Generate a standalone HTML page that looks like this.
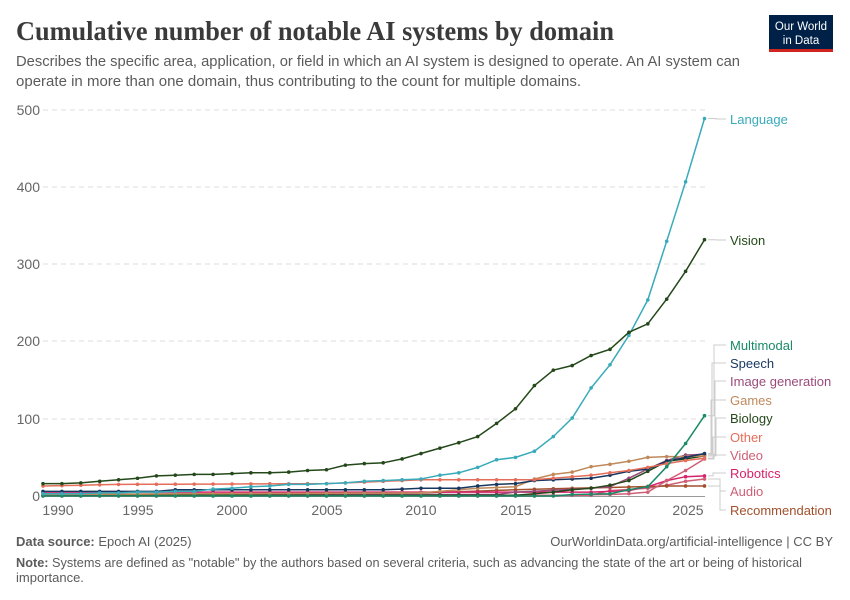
<!DOCTYPE html>
<html><head><meta charset="utf-8"><style>
html,body{margin:0;padding:0;background:#fff}
svg{display:block}
text{font-family:"Liberation Sans",sans-serif}
</style></head><body>
<svg id="s" width="850" height="600" xmlns="http://www.w3.org/2000/svg">
<text x="16" y="40" style="font-family:'Liberation Serif',serif" font-size="27" font-weight="bold" fill="#3a3a3a" textLength="598" lengthAdjust="spacingAndGlyphs">Cumulative number of notable AI systems by domain</text>
<text x="16" y="66" font-size="15" fill="#5b5b5b" textLength="724" lengthAdjust="spacingAndGlyphs">Describes the specific area, application, or field in which an AI system is designed to operate. An AI system can</text>
<text x="16" y="86" font-size="15" fill="#5b5b5b" textLength="565" lengthAdjust="spacingAndGlyphs">operate in more than one domain, thus contributing to the count for multiple domains.</text>
<rect x="769" y="15" width="64" height="34" fill="#002147"/>
<rect x="769" y="49" width="64" height="3" fill="#ce261e"/>
<text x="801" y="30" font-size="11.5" fill="#fff" text-anchor="middle">Our World</text>
<text x="801" y="44" font-size="11.5" fill="#fff" text-anchor="middle">in Data</text>
<g stroke="#ddd" stroke-dasharray="5,4">
<line x1="43" x2="705" y1="110" y2="110"/><line x1="43" x2="705" y1="187" y2="187"/>
<line x1="43" x2="705" y1="264" y2="264"/><line x1="43" x2="705" y1="341" y2="341"/>
<line x1="43" x2="705" y1="419" y2="419"/>
</g>
<line x1="43" x2="705" y1="496.5" y2="496.5" stroke="#999"/>
<g font-size="14" fill="#666" text-anchor="end">
<text x="40" y="115">500</text><text x="40" y="192">400</text><text x="40" y="269">300</text>
<text x="40" y="346">200</text><text x="40" y="424">100</text><text x="40" y="501">0</text>
</g>
<g font-size="14" fill="#666" text-anchor="middle">
<text x="58" y="515">1990</text><text x="138" y="515">1995</text><text x="232" y="515">2000</text>
<text x="327" y="515">2005</text><text x="421" y="515">2010</text><text x="516" y="515">2015</text>
<text x="610" y="515">2020</text><text x="688" y="515">2025</text>
</g>
<g id="lines"></g>
<g id="conn" stroke="#ccc" fill="none"></g>
<g font-size="13">
<text x="730" y="124" fill="#38aaba">Language</text>
<text x="730" y="245" fill="#24481a">Vision</text>
<text x="730" y="350" fill="#1a8a68">Multimodal</text>
<text x="730" y="368" fill="#18375f">Speech</text>
<text x="730" y="386" fill="#9a4a7a">Image generation</text>
<text x="730" y="405" fill="#c0895b">Games</text>
<text x="730" y="423" fill="#24481a">Biology</text>
<text x="730" y="442" fill="#e56e5a">Other</text>
<text x="730" y="460" fill="#cf5f76">Video</text>
<text x="730" y="478" fill="#d6236b">Robotics</text>
<text x="730" y="496" fill="#cf5f76">Audio</text>
<text x="730" y="515" fill="#a2502c">Recommendation</text>
</g>
<text x="16" y="546" font-size="13" fill="#5b5b5b"><tspan font-weight="bold">Data source:</tspan> Epoch AI (2025)</text>
<text x="833" y="546" font-size="13" fill="#5b5b5b" text-anchor="end">OurWorldinData.org/artificial-intelligence | CC BY</text>
<text x="16" y="567" font-size="13" fill="#5b5b5b" textLength="786" lengthAdjust="spacingAndGlyphs"><tspan font-weight="bold">Note:</tspan> Systems are defined as "notable" by the authors based on several criteria, such as advancing the state of the art or being of historical</text>
<text x="16" y="582" font-size="13" fill="#5b5b5b">importance.</text>
</svg>
<script>
const X=y=>43+(y-1990)*18.9, Y=v=>496-v*0.772;
function fill(pairs){const a=[];for(let i=0;i<pairs.length-1;i++){const[y0,v0]=pairs[i],[y1,v1]=pairs[i+1];for(let y=y0;y<y1;y++)a.push(v0+(v1-v0)*(y-y0)/(y1-y0));}a.push(pairs[pairs.length-1][1]);return a;}
const S=[
["#cf5f76",fill([[1990,1],[2019,1],[2020,7],[2022,10],[2023,14],[2024,19],[2025,22]]),491],
["#a2502c",fill([[1990,2],[2010,4],[2015,8],[2018,10],[2020,11],[2023,13],[2025,13]]),510],
["#d6236b",fill([[1990,5],[2019,5],[2020,6],[2021,7],[2022,12],[2023,20],[2024,25],[2025,26]]),473],
["#cf5f76",fill([[1990,0],[2016,0],[2020,2],[2021,3],[2022,5],[2023,20],[2024,33],[2025,48]]),455],
["#9a4a7a",fill([[1990,2],[2014,2],[2015,5],[2019,10],[2020,12],[2021,23],[2022,35],[2023,46],[2024,53],[2025,54]]),381],
["#24481a",fill([[1990,1],[2015,1],[2016,3],[2017,5],[2018,8],[2019,10],[2020,14],[2021,20],[2022,32],[2023,45],[2024,48],[2025,52]]),418],
["#c0895b",fill([[1990,2],[2010,4],[2013,10],[2015,12],[2016,22],[2017,28],[2018,31],[2019,38],[2020,41],[2021,45],[2022,50],[2023,51],[2024,51],[2025,52]]),400],
["#18375f",fill([[1990,6],[1996,6],[1997,8],[2008,8],[2010,10],[2012,10],[2013,13],[2014,15],[2015,16],[2016,20],[2017,21],[2018,22],[2019,23],[2020,27],[2021,32],[2022,35],[2023,45],[2024,50],[2025,55]]),363],
["#e56e5a",fill([[1990,13],[1994,15],[2005,16],[2006,17],[2009,20],[2010,21],[2016,21],[2017,23],[2018,25],[2019,27],[2020,30],[2021,33],[2022,37],[2023,42],[2024,46],[2025,49]]),437],
["#1a8a68",fill([[1990,0],[2017,0],[2018,2],[2020,3],[2021,8],[2022,12],[2023,38],[2024,68],[2025,104]]),345],
["#38aaba",[3,3,3,4,4,5,5,6,6,9,10,12,13,15,15,16,17,19,20,21,22,27,30,37,47,50,58,77,101,140,170,208,254,330,407,489],null],
["#24481a",[16,16,17,19,21,23,26,27,28,28,29,30,30,31,33,34,40,42,43,48,55,62,69,77,94,113,143,163,169,182,190,212,223,255,291,332],null]
];
const ns="http://www.w3.org/2000/svg";const g=document.getElementById('lines'),c=document.getElementById('conn');
S.forEach(([col,vals,ly],k)=>{const p=vals.map((v,i)=>X(1990+i).toFixed(1)+","+Y(v).toFixed(1));
const pl=document.createElementNS(ns,'polyline');pl.setAttribute('points',p.join(' '));pl.setAttribute('fill','none');pl.setAttribute('stroke',col);pl.setAttribute('stroke-width','1.5');g.appendChild(pl);
vals.forEach((v,i)=>{const ci=document.createElementNS(ns,'circle');ci.setAttribute('cx',X(1990+i));ci.setAttribute('cy',Y(v));ci.setAttribute('r','1.8');ci.setAttribute('fill',col);g.appendChild(ci);});
const ye=Y(vals[vals.length-1]);let yl=ly==null?(k==10?119:240):ly;
const xv=ly==null?716:(yl<ye?711+ (k%6):720);
const l=document.createElementNS(ns,'polyline');l.setAttribute('points',`708,${ye} ${xv},${ye} ${xv},${yl} 726,${yl}`);c.appendChild(l);});
</script>
</body></html>
